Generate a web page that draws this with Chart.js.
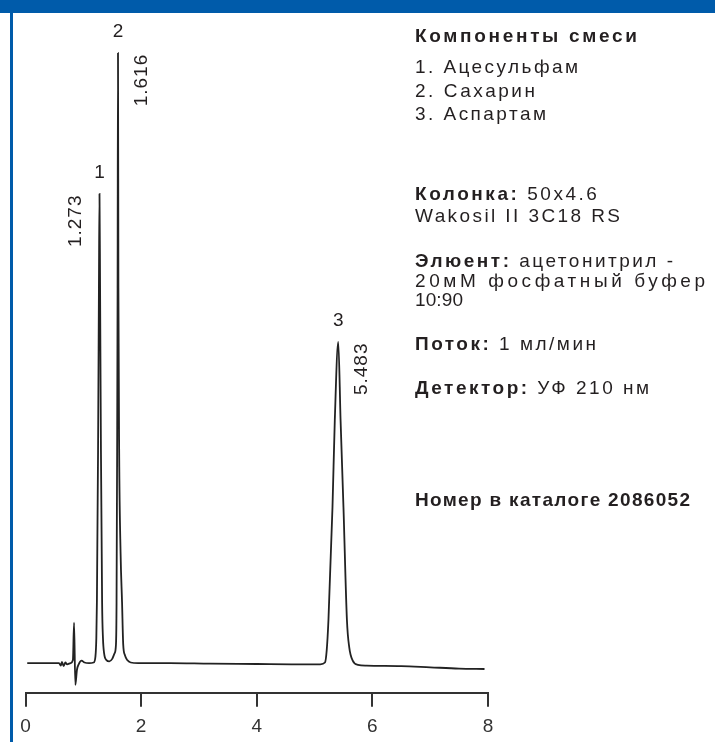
<!DOCTYPE html>
<html lang="ru">
<head>
<meta charset="utf-8">
<script src="https://cdn.jsdelivr.net/npm/chart.js@4.4.1/dist/chart.umd.min.js"></script>
<style>
  html, body { margin: 0; padding: 0; background: #ffffff; overflow: hidden; }
  #page { position: relative; width: 715px; height: 742px; }
  #chart { position: absolute; left: 0; top: 0; }
  .bar { position: absolute; left: 0; top: 0; width: 715px; height: 13px; background: #005BAA; z-index: 2; }
  .vline { position: absolute; left: 10px; top: 0; width: 3px; height: 742px; background: #005BAA; z-index: 2; }
  .ln { position: absolute; left: 415px; white-space: nowrap; font-family: "Liberation Sans", Arial, sans-serif;
        font-size: 19px; line-height: 1; color: #231f20; z-index: 3; display: inline-block; }
  .ln b { font-weight: bold; }
</style>
</head>
<body>
<div id="page">
  <canvas id="chart" width="715" height="742"></canvas>
  <div class="bar"></div>
  <div class="vline"></div>

  <div class="ln" data-w="222" style="top:25.6px"><b>Компоненты смеси</b></div>
  <div class="ln" data-w="163" style="top:57.2px">1. Ацесульфам</div>
  <div class="ln" data-w="120" style="top:80.6px">2. Сахарин</div>
  <div class="ln" data-w="131" style="top:103.9px">3. Аспартам</div>

  <div class="ln" data-w="182" style="top:183.9px"><b>Колонка:</b> 50x4.6</div>
  <div class="ln" data-w="205" style="top:205.6px">Wakosil II 3C18 RS</div>

  <div class="ln" data-w="258" style="top:250.6px"><b>Элюент:</b> ацетонитрил -</div>
  <div class="ln" data-w="290" style="top:270.6px">20мМ фосфатный буфер</div>
  <div class="ln" data-w="48" style="top:290px">10:90</div>

  <div class="ln" data-w="181" style="top:333.9px"><b>Поток:</b> 1 мл/мин</div>
  <div class="ln" data-w="234" style="top:377.9px"><b>Детектор:</b> УФ 210 нм</div>

  <div class="ln" data-w="275" style="top:489.9px"><b>Номер в каталоге 2086052</b></div>
</div>

<script>
// ---- Data ----
// Retention time, min
const time = [
  0.03, 0.30, 0.58, 0.61, 0.63, 0.66, 0.69, 0.72, 0.78, 0.82, 0.84, 0.862, 0.89, 0.92, 0.97, 1.02, 1.10,
  1.18, 1.21, 1.225, 1.235, 1.255, 1.27, 1.28, 1.29, 1.305, 1.325, 1.34, 1.36, 1.40, 1.45, 1.50,
  1.54, 1.565, 1.575, 1.585, 1.593, 1.60, 1.607, 1.62, 1.645, 1.67, 1.69, 1.72, 1.76, 1.82, 1.95,
  2.50, 3.20, 4.00, 4.60, 5.10,
  5.18, 5.21, 5.24, 5.31, 5.35, 5.41, 5.45, 5.50, 5.56, 5.60, 5.66, 5.75, 5.90,
  6.50, 7.00, 7.50, 7.94
];
// Detector signal, arbitrary units
const signal = [
  -0.1, -0.1, -0.1, -0.5, 0.1, -0.6, 0.0, -0.3, -0.1, 0.4, 6.6, -3.7, -1.2, -0.3, 0.3, 0.0, -0.1,
  0.0, 1.0, 4, 10, 35, 62, 77.6, 62, 35, 10, 4, 1.5, 0.4, 0.2, 0.6,
  1.5, 3, 10, 35, 62, 100.9, 62, 35, 18, 10, 3, 1.2, 0.4, 0.0, -0.1,
  -0.1, -0.2, -0.25, -0.3, -0.3,
  0.0, 2, 7.0, 25.7, 40.1, 53.1, 40.1, 25.7, 7.0, 2.5, 0.3, -0.4, -0.53,
  -0.6, -0.8, -1.0, -1.08
];
// Peaks
const peakNumbers = ['1', '2', '3'];
const peakApexTimes = [1.28, 1.60, 5.41];
const retentionLabels = ['1.273', '1.616', '5.483'];
// X axis
const xTicks = [0, 2, 4, 6, 8];

// ---- Styling ----
const FONT = '"Liberation Sans", Arial, sans-serif';
const INK = '#231f20';
const labelSide = [-1, 1, 1];

const peakLabels = {
  id: 'peakLabels',
  afterDatasetsDraw(chart) {
    const { ctx, scales: { x, y } } = chart;
    ctx.save();
    ctx.fillStyle = INK;
    ctx.font = '19px ' + FONT;
    ctx.textAlign = 'center';
    ctx.textBaseline = 'middle';
    peakApexTimes.forEach((t, i) => {
      const idx = time.indexOf(t);
      const px = x.getPixelForValue(t);
      const py = y.getPixelForValue(signal[idx]);
      ctx.fillText(peakNumbers[i], px, py - 21);
      ctx.save();
      ctx.translate(px + labelSide[i] * 23.5, py + 27);
      ctx.rotate(-Math.PI / 2);
      if ('letterSpacing' in ctx) ctx.letterSpacing = '1px';
      ctx.fillText(retentionLabels[i], 0, 0);
      ctx.restore();
    });
    ctx.restore();
  }
};

new Chart(document.getElementById('chart'), {
  type: 'line',
  data: {
    datasets: [{
      data: time.map((t, i) => ({ x: t, y: signal[i] })),
      borderColor: '#222222',
      borderWidth: 1.8,
      pointRadius: 0,
      fill: false,
      cubicInterpolationMode: 'monotone',
      clip: false
    }]
  },
  options: {
    responsive: false,
    animation: false,
    events: [],
    layout: { padding: { left: 25.5, right: 227, top: 28.3, bottom: 0 } },
    plugins: { legend: { display: false }, tooltip: { enabled: false } },
    scales: {
      x: {
        type: 'linear',
        min: xTicks[0],
        max: xTicks[xTicks.length - 1],
        afterBuildTicks: (s) => { s.ticks = xTicks.map(v => ({ value: v })); },
        ticks: { font: { family: FONT, size: 19 }, color: '#333333', padding: 9, maxRotation: 0 },
        grid: { display: true, drawOnChartArea: false, drawTicks: true, tickLength: 14, color: '#333333', lineWidth: 2 },
        border: { display: true, color: '#333333', width: 2 },
        afterFit: (s) => { s.height = 742 - 692.7; }
      },
      y: { type: 'linear', display: false, min: -5, max: 105 }
    }
  },
  plugins: [peakLabels]
});

// Fit letter spacing of the side-panel lines to the reference widths
function fitLines() {
  document.querySelectorAll('.ln').forEach(el => {
    el.style.letterSpacing = '0px';
    const w0 = el.getBoundingClientRect().width;
    const n = el.textContent.length;
    const target = parseFloat(el.dataset.w);
    const ls = (target - w0) / Math.max(1, n - 1);
    el.style.letterSpacing = ls.toFixed(2) + 'px';
  });
}
fitLines();
if (document.fonts && document.fonts.ready) document.fonts.ready.then(fitLines);
</script>
</body>
</html>
